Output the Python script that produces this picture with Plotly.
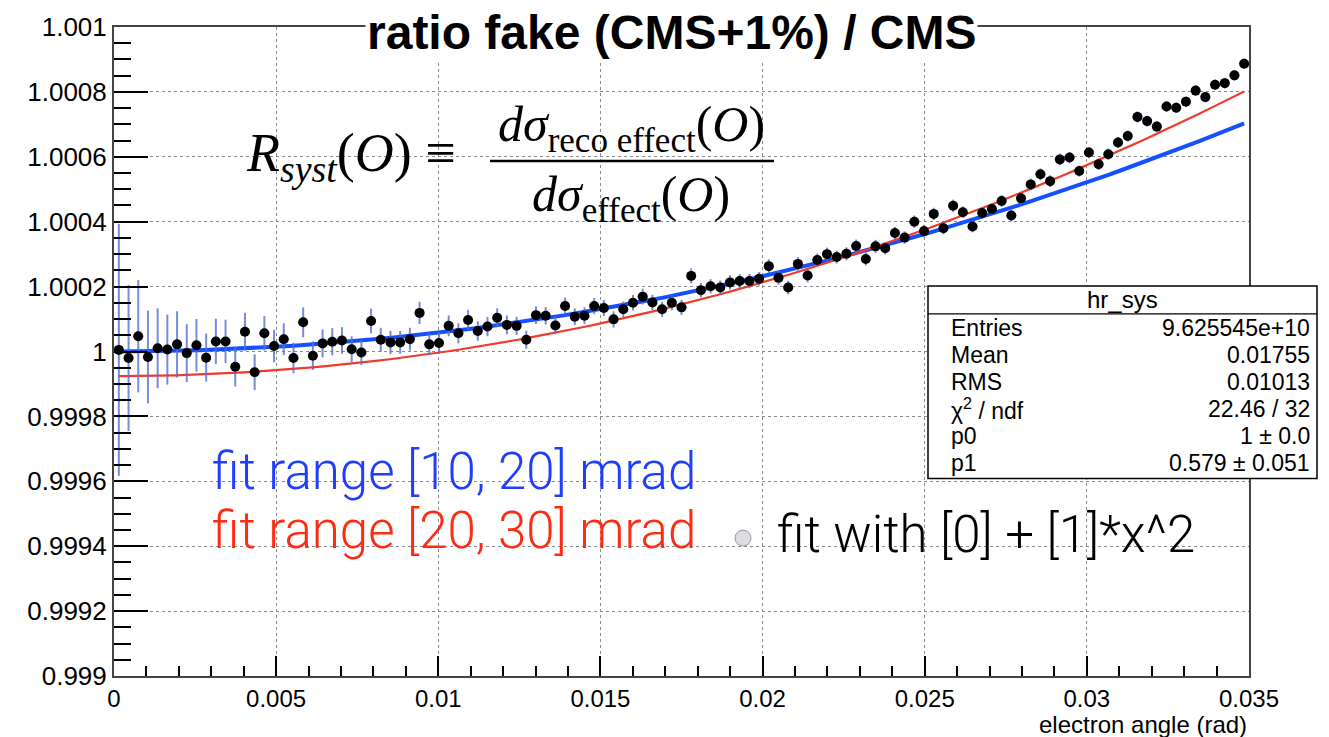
import numpy as np
import plotly.graph_objects as go

# ---- histogram hr_sys: ratio per bin, expressed as deviation from 1 in units of 1e-6 ----
n_bins = 117
x_lo, x_hi = 0.0, 0.035
ratio_dev_1e6 = [
    5, -20, 47, -17, 10, 6, 22, -5, 19, -19,
    31, 31, -47, 61, -64, 56, 17, 38, -20, 90,
    -13, 25, 30, 34, 7, -3, 94, 36, 28, 28,
    38, 119, 22, 26, 79, 56, 97, 63, 77, 104,
    82, 79, 36, 112, 110, 80, 140, 107, 110, 140,
    134, 99, 130, 150, 169, 151, 130, 150, 136, 233,
    189, 201, 197, 213, 217, 217, 224, 263, 227, 197,
    270, 234, 282, 300, 291, 301, 325, 285, 324, 318,
    365, 351, 400, 371, 424, 380, 449, 429, 385, 427,
    439, 464, 419, 472, 515, 546, 525, 592, 598, 556,
    613, 577, 608, 644, 664, 723, 710, 693, 755, 751,
    770, 804, 784, 822, 827, 851, 887,
]
error_1e6 = [
    388, 225, 173, 143, 123, 108, 102, 89, 81, 74,
    70, 67, 61, 58, 55, 53, 50, 49, 47, 46,
    44, 43, 42, 41, 40, 39, 38, 37, 36, 35,
    35, 34, 33, 33, 32, 31, 31, 30, 30, 29,
    29, 28, 28, 27, 27, 27, 26, 26, 26, 25,
    25, 25, 24, 24, 24, 24, 23, 23, 23, 23,
    22, 22, 22, 22, 22, 22, 21, 21, 21, 21,
    21, 21, 20, 20, 20, 20, 20, 20, 20, 19,
    19, 19, 19, 19, 19, 19, 19, 18, 18, 18,
    18, 18, 18, 18, 18, 18, 18, 18, 17, 17,
    17, 17, 17, 17, 17, 17, 17, 17, 16, 16,
    16, 16, 16, 16, 16, 16, 16,
]

# fit results for [0] + [1]*x^2
blue_p0, blue_p1 = 1.0, 0.579        # fit range [10, 20] mrad
red_p0, red_p1 = 0.999924, 0.7224    # fit range [20, 30] mrad

# axis ticks
x_tickvals = [0, 0.005, 0.01, 0.015, 0.02, 0.025, 0.03, 0.035]
x_ticktext = ["0", "0.005", "0.01", "0.015", "0.02", "0.025", "0.03", "0.035"]
y_tickvals = [0.999, 0.9992, 0.9994, 0.9996, 0.9998, 1.0, 1.0002, 1.0004, 1.0006, 1.0008, 1.001]
y_ticktext = ["0.999", "0.9992", "0.9994", "0.9996", "0.9998", "1",
              "1.0002", "1.0004", "1.0006", "1.0008", "1.001"]

# stats box contents
stats_title = "hr_sys"
stats_labels = ["Entries", "Mean", "RMS", "χ<sup>2</sup> / ndf", "p0", "p1"]
stats_values = ["9.625545e+10", "0.01755", "0.01013", "22.46 / 32", "1 ± 0.0", "0.579 ± 0.051"]

# ---- derived arrays ----
edges = np.linspace(x_lo, x_hi, n_bins + 1)
centers = 0.5 * (edges[:-1] + edges[1:])
half_w = 0.5 * (edges[1] - edges[0])
ratio = 1.0 + np.array(ratio_dev_1e6) * 1e-6
err = np.array(error_1e6) * 1e-6

xf = np.linspace(centers[0], centers[-1], 100)
blue_curve = blue_p0 + blue_p1 * xf ** 2
red_curve = red_p0 + red_p1 * xf ** 2

# ---- pixel layout helpers (plot frame in pixels) ----
W, H = 1329, 737
L, R, T, B = 114, 1249, 22, 676


def px(xp):
    return (xp - L) / (R - L)


def py(yp):
    return (B - yp) / (B - T)


SANS = "Liberation Sans, Arial, sans-serif"
SERIF = "Liberation Serif, Times New Roman, serif"
LIGHT = "Roboto, Lato, sans-serif"

fig = go.Figure()

fig.add_trace(go.Scatter(x=xf, y=blue_curve, mode="lines",
                         line=dict(color="#1450ff", width=4), hoverinfo="skip"))
fig.add_trace(go.Scatter(x=xf, y=red_curve, mode="lines",
                         line=dict(color="#f23a2a", width=2.2), hoverinfo="skip"))
fig.add_trace(go.Scatter(
    x=centers, y=ratio, mode="markers",
    marker=dict(color="black", size=10),
    error_y=dict(type="data", array=err, color="rgba(85,110,210,0.8)", thickness=2, width=0),
    error_x=dict(type="data", array=np.full(n_bins, half_w), color="rgba(85,110,210,0.8)",
                 thickness=2, width=0),
))

axis_common = dict(
    showline=True, linecolor="#444", linewidth=2, mirror=True,
    ticks="inside", tickcolor="black", tickwidth=1.5,
    showgrid=True, gridcolor="#8a8a8a", griddash="dot", gridwidth=1,
    zeroline=False,
)

fig.update_xaxes(range=[x_lo, x_hi], tickvals=x_tickvals, ticktext=x_ticktext,
                 ticklen=20, ticklabelstandoff=0,
                 tickfont=dict(family=SANS, size=24, color="black"),
                 minor=dict(dtick=0.001, ticklen=10, ticks="inside", tickcolor="black",
                            showgrid=False),
                 **axis_common)
fig.update_yaxes(range=[0.999, 1.001], tickvals=y_tickvals, ticktext=y_ticktext,
                 ticklen=34,
                 tickfont=dict(family=SANS, size=26, color="black"),
                 minor=dict(dtick=0.00005, ticklen=17, ticks="inside", tickcolor="black",
                            showgrid=False),
                 **axis_common)

ann = []
shapes = []

# title
ann.append(dict(text="<b>ratio fake (CMS+1%) / CMS</b>", x=px(671), y=py(28),
                xref="paper", yref="paper", xanchor="center", yanchor="middle",
                showarrow=False, font=dict(family=SANS, size=48, color="black"),
                bgcolor="white", borderpad=1))

# x-axis title
ann.append(dict(text="electron angle (rad)", x=1.0, y=py(725), xref="paper", yref="paper",
                xanchor="right", yanchor="middle", showarrow=False,
                font=dict(family=SANS, size=24, color="black")))

# formula R_syst(O) = dσ_reco effect(O) / dσ_effect(O)
ann.append(dict(text="<i>R</i><sub><i>syst</i></sub>(<i>O</i>)&nbsp;≡", x=px(351), y=py(153),
                xref="paper", yref="paper", xanchor="center", yanchor="middle",
                showarrow=False, font=dict(family=SERIF, size=54, color="black")))
ann.append(dict(text="<i>dσ</i><sub>reco effect</sub>(<i>O</i>)", x=px(631), y=py(124),
                xref="paper", yref="paper", xanchor="center", yanchor="middle",
                showarrow=False, font=dict(family=SERIF, size=50, color="black")))
ann.append(dict(text="<i>dσ</i><sub>effect</sub>(<i>O</i>)", x=px(631), y=py(194),
                xref="paper", yref="paper", xanchor="center", yanchor="middle",
                showarrow=False, font=dict(family=SERIF, size=50, color="black")))
shapes.append(dict(type="line", xref="paper", yref="paper", x0=px(490), x1=px(774),
                   y0=py(157), y1=py(157), line=dict(color="black", width=2.5), layer="above"))

# fit range labels
ann.append(dict(text="fit range [10, 20] mrad", x=px(210), y=py(470), xref="paper", yref="paper",
                xanchor="left", yanchor="middle", showarrow=False,
                font=dict(family=LIGHT, size=51, color="#1f3dff", weight=300)))
ann.append(dict(text="fit range [20, 30] mrad", x=px(210), y=py(529), xref="paper", yref="paper",
                xanchor="left", yanchor="middle", showarrow=False,
                font=dict(family=LIGHT, size=51, color="#ff2a12", weight=300)))
ann.append(dict(text="fit with [0] + [1]*x^2", x=px(775), y=py(533), xref="paper", yref="paper",
                xanchor="left", yanchor="middle", showarrow=False,
                font=dict(family=LIGHT, size=51, color="black", weight=300)))
shapes.append(dict(type="circle", xref="paper", yref="paper", x0=px(735), x1=px(751),
                   y0=py(545), y1=py(529), fillcolor="#dcdce2",
                   line=dict(color="#9a9aa4", width=1), layer="above"))

# stats box
bx0, bx1, by0, by1 = 928, 1317, 283, 477
shapes.append(dict(type="rect", xref="paper", yref="paper", x0=px(bx0), x1=px(bx1),
                   y0=py(by1), y1=py(by0), fillcolor="white",
                   line=dict(color="black", width=1.5), layer="above"))
shapes.append(dict(type="line", xref="paper", yref="paper", x0=px(bx0), x1=px(bx1),
                   y0=py(311), y1=py(311), line=dict(color="black", width=1.2), layer="above"))
ann.append(dict(text=stats_title, x=px((bx0 + bx1) / 2), y=py(297), xref="paper", yref="paper",
                xanchor="center", yanchor="middle", showarrow=False,
                font=dict(family=SANS, size=24, color="black")))
row_y = [325, 352.5, 380, 407, 434, 461.5]
for lab, val, yy in zip(stats_labels, stats_values, row_y):
    ann.append(dict(text=lab, x=px(949), y=py(yy), xref="paper", yref="paper",
                    xanchor="left", yanchor="middle", showarrow=False,
                    font=dict(family=SANS, size=23, color="black")))
    ann.append(dict(text=val, x=px(1312), y=py(yy), xref="paper", yref="paper",
                    xanchor="right", yanchor="middle", showarrow=False,
                    font=dict(family=SANS, size=23, color="black")))

fig.update_layout(
    width=W, height=H,
    margin=dict(l=L, r=W - R, t=T, b=H - B),
    paper_bgcolor="white", plot_bgcolor="white",
    showlegend=False,
    annotations=ann, shapes=shapes,
)

fig.write_html("out.html")
